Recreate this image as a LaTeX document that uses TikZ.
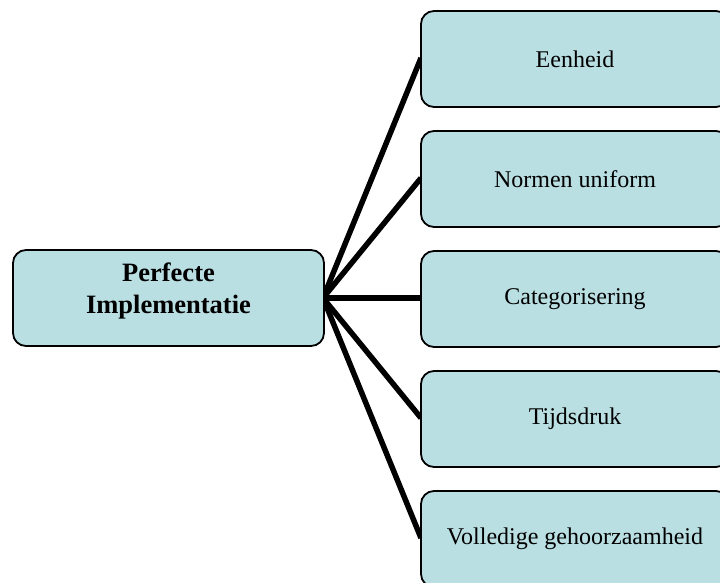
\documentclass[tikz,border=0pt]{standalone}
\usepackage{fontspec}
\setmainfont{Liberation Serif}
\definecolor{boxfill}{RGB}{186,223,227}
\begin{document}
\begin{tikzpicture}[x=1pt,y=-1pt,
  box/.style={draw=black, line width=1.8pt, fill=boxfill, rounded corners=13pt,
    inner sep=0pt, minimum height=96pt, align=center},
  rootbox/.style={box, minimum width=311pt},
  roottext/.style={font=\fontsize{26.5}{32}\selectfont\bfseries, align=center, yshift=7pt},
  leafbox/.style={box, minimum width=308pt, font=\fontsize{24}{28}\selectfont},
  link/.style={line width=5.5pt}]
\useasboundingbox (0,0) rectangle (720,582);
\clip (0,0) rectangle (720,582);
% connectors (drawn first, boxes on top)
\coordinate (hub) at (323,298);
\coordinate (e1) at (421,58);
\coordinate (e2) at (421,178);
\coordinate (e3) at (421,298);
\coordinate (e4) at (421,418);
\coordinate (e5) at (421,538);
\foreach \i in {1,...,5} \draw[link] (hub) -- (e\i);
% boxes
\node[rootbox, label={[roottext]center:Perfecte\\Implementatie}] (root) at (168.5,298) {};
\node[leafbox] (b1) at (575,59)  {Eenheid};
\node[leafbox] (b2) at (575,179) {Normen uniform};
\node[leafbox] (b3) at (575,299) {Categorisering};
\node[leafbox] (b4) at (575,419) {Tijdsdruk};
\node[leafbox] (b5) at (575,539) {Volledige gehoorzaamheid};
\end{tikzpicture}
\end{document}
